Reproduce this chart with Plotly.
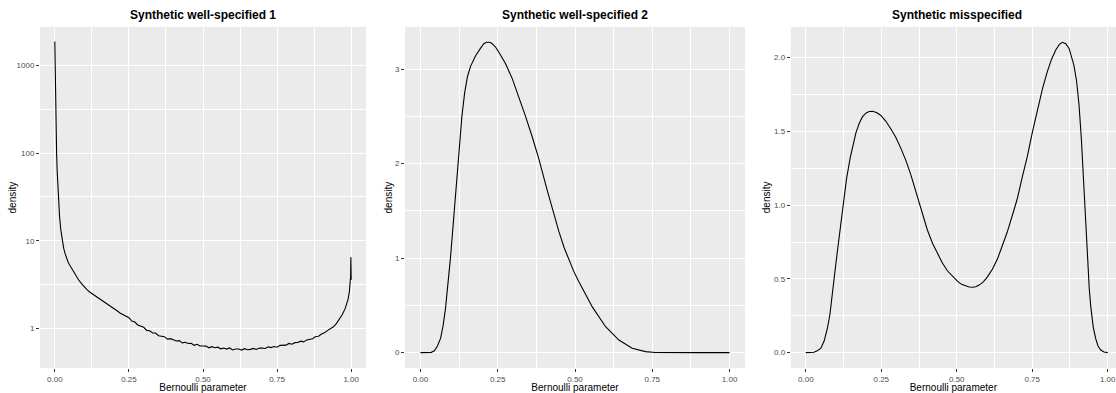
import plotly.graph_objects as go

# ---------------- data ----------------
titles = ["Synthetic well-specified 1", "Synthetic well-specified 2", "Synthetic misspecified"]
x_title = "Bernoulli parameter"
y_title = "density"
x_tickvals = [0.0, 0.25, 0.5, 0.75, 1.0]
x_ticktext = ["0.00", "0.25", "0.50", "0.75", "1.00"]

x1 = [0.0, 0.002, 0.004, 0.006, 0.008, 0.010, 0.013, 0.016, 0.020, 0.025, 0.030, 0.035,
      0.040, 0.045, 0.050, 0.060, 0.070, 0.080, 0.090, 0.100,
      0.11, 0.12, 0.13, 0.14, 0.15, 0.16, 0.17, 0.18, 0.19, 0.20,
      0.21, 0.22, 0.23, 0.24, 0.25, 0.26, 0.27, 0.28, 0.29, 0.30,
      0.31, 0.32, 0.33, 0.34, 0.35, 0.36, 0.37, 0.38, 0.39, 0.40,
      0.41, 0.42, 0.43, 0.44, 0.45, 0.46, 0.47, 0.48, 0.49, 0.50,
      0.51, 0.52, 0.53, 0.54, 0.55, 0.56, 0.57, 0.58, 0.59, 0.60,
      0.61, 0.62, 0.63, 0.64, 0.65, 0.66, 0.67, 0.68, 0.69, 0.70,
      0.71, 0.72, 0.73, 0.74, 0.75, 0.76, 0.77, 0.78, 0.79, 0.80,
      0.81, 0.82, 0.83, 0.84, 0.85, 0.86, 0.87, 0.88, 0.89, 0.90,
      0.91, 0.92, 0.93, 0.94, 0.95, 0.96, 0.97, 0.98, 0.985, 0.99,
      0.994, 0.997, 0.998, 0.999, 1.0]
y1 = [1872, 400, 170, 100, 62, 42, 28, 19, 13.5, 9.9, 8.2, 7.1,
      6.3, 5.7, 5.3, 4.6, 4.05, 3.6, 3.25, 2.97,
      2.75, 2.58, 2.45, 2.33, 2.22, 2.09, 1.98, 1.87, 1.78, 1.68,
      1.60, 1.51, 1.445, 1.37, 1.33, 1.22, 1.19, 1.10, 1.075, 1.035,
      0.955, 0.944, 0.891, 0.892, 0.830, 0.820, 0.810, 0.759, 0.768, 0.748,
      0.722, 0.729, 0.689, 0.698, 0.677, 0.679, 0.646, 0.663, 0.635, 0.633,
      0.632, 0.605, 0.623, 0.605, 0.615, 0.589, 0.600, 0.584, 0.602, 0.572,
      0.585, 0.586, 0.570, 0.591, 0.575, 0.580, 0.595, 0.578, 0.600, 0.601,
      0.594, 0.620, 0.608, 0.626, 0.614, 0.645, 0.645, 0.648, 0.678, 0.665,
      0.692, 0.694, 0.719, 0.706, 0.744, 0.759, 0.768, 0.812, 0.818, 0.869,
      0.896, 0.949, 0.99, 1.05, 1.14, 1.27, 1.45, 1.70, 1.92, 2.2,
      2.65, 3.2, 3.9, 6.5, 3.6]

x2 = [0.0, 0.02, 0.035, 0.045, 0.055, 0.065, 0.073, 0.081, 0.089, 0.097, 0.105, 0.113,
      0.120, 0.127, 0.134, 0.143, 0.152, 0.162, 0.178, 0.194, 0.205, 0.213, 0.225, 0.232,
      0.243, 0.259, 0.275, 0.297, 0.318, 0.340, 0.361, 0.383, 0.410, 0.430, 0.448, 0.465,
      0.480, 0.496, 0.513, 0.556, 0.599, 0.642, 0.685, 0.728, 0.760, 0.800, 0.900, 1.000]
y2 = [0.0, 0.0, 0.003, 0.02, 0.07, 0.15, 0.28, 0.466, 0.72, 1.0, 1.32, 1.64,
      1.95, 2.25, 2.50, 2.75, 2.92, 3.03, 3.14, 3.22, 3.27, 3.285, 3.285, 3.27,
      3.235, 3.15, 3.06, 2.90, 2.71, 2.50, 2.29, 2.05, 1.72, 1.48, 1.28, 1.11,
      0.98, 0.86, 0.747, 0.484, 0.274, 0.133, 0.046, 0.011, 0.002, 0.0, 0.0, 0.0]

x3 = [0.0, 0.015, 0.027, 0.038, 0.050, 0.061, 0.072, 0.080, 0.088, 0.0937, 0.103, 0.1126,
      0.1235, 0.135, 0.147, 0.156, 0.166, 0.177, 0.188, 0.200, 0.210, 0.221, 0.234, 0.248,
      0.264, 0.281, 0.298, 0.315, 0.332, 0.348, 0.359, 0.370, 0.386, 0.403, 0.420, 0.436,
      0.452, 0.469, 0.486, 0.502, 0.516, 0.530, 0.541, 0.552, 0.563, 0.574, 0.588, 0.601,
      0.618, 0.635, 0.651, 0.667, 0.684, 0.700, 0.717, 0.734, 0.750, 0.767, 0.784, 0.800,
      0.814, 0.828, 0.840, 0.850, 0.861, 0.872, 0.880, 0.888, 0.897, 0.905, 0.913, 0.921,
      0.927, 0.933, 0.939, 0.944, 0.952, 0.960, 0.968, 0.977, 0.988, 1.0]
y3 = [0.0, 0.0, 0.003, 0.012, 0.03, 0.08, 0.17, 0.26, 0.38, 0.50, 0.66, 0.816,
      1.0, 1.18, 1.32, 1.41, 1.49, 1.555, 1.60, 1.625, 1.635, 1.637, 1.628, 1.61,
      1.572, 1.52, 1.46, 1.385, 1.30, 1.205, 1.13, 1.05, 0.935, 0.83, 0.74, 0.675,
      0.61, 0.555, 0.515, 0.485, 0.463, 0.45, 0.445, 0.443, 0.447, 0.458, 0.48, 0.512,
      0.565, 0.636, 0.72, 0.816, 0.93, 1.04, 1.19, 1.332, 1.49, 1.647, 1.79, 1.906,
      1.99, 2.052, 2.09, 2.104, 2.095, 2.063, 2.01, 1.95, 1.84, 1.68, 1.44, 1.12,
      0.86, 0.62, 0.43, 0.31, 0.175, 0.096, 0.045, 0.018, 0.004, 0.0]

y1_tickvals = [1, 10, 100, 1000]
y1_ticktext = ["1", "10", "100", "1000"]
y2_tickvals = [0, 1, 2, 3]
y2_ticktext = ["0", "1", "2", "3"]
y3_tickvals = [0.0, 0.5, 1.0, 1.5, 2.0]
y3_ticktext = ["0.0", "0.5", "1.0", "1.5", "2.0"]

# ---------------- figure ----------------
W, H = 1116, 393
FONT = "Liberation Sans, Arial, sans-serif"
PANEL_BG = "#EBEBEB"

fig = go.Figure()
series = [(x1, y1), (x2, y2), (x3, y3)]
for i, (xs, ys) in enumerate(series):
    sfx = "" if i == 0 else str(i + 1)
    fig.add_trace(go.Scatter(x=xs, y=ys, mode="lines",
                             line=dict(color="black", width=1.1),
                             xaxis="x" + sfx, yaxis="y" + sfx,
                             showlegend=False, hoverinfo="skip"))

# pixel geometry of the three panels
panels_px = [(40, 366), (405, 745), (790.7, 1116)]
x_ranges = [[-0.05, 1.05], [-0.05, 1.05], [-0.05, (1116 - 805.7) / 302]]
y_top_px, y_bot_px = 27, 370
y_dom = [1 - y_bot_px / H, 1 - y_top_px / H]

common_axis = dict(
    showline=False, zeroline=False, ticks="outside", ticklen=3, tickwidth=1,
    tickcolor="#333333", tickfont=dict(family=FONT, size=8, color="#4D4D4D"),
    showgrid=True, gridcolor="white", gridwidth=1.1, ticklabeloverflow="allow",
)

y_specs = [
    dict(type="log", range=[-0.45, 3.438], tickvals=y1_tickvals, ticktext=y1_ticktext,
         minor=dict(tickvals=[10 ** 0.5, 10 ** 1.5, 10 ** 2.5], showgrid=True,
                    gridcolor="white", gridwidth=0.55, ticks="")),
    dict(range=[-0.164, 3.448], tickvals=y2_tickvals, ticktext=y2_ticktext,
         minor=dict(tickvals=[0.5, 1.5, 2.5], showgrid=True, gridcolor="white",
                    gridwidth=0.55, ticks="")),
    dict(range=[-0.105, 2.209], tickvals=y3_tickvals, ticktext=y3_ticktext,
         minor=dict(tickvals=[0.25, 0.75, 1.25, 1.75], showgrid=True, gridcolor="white",
                    gridwidth=0.55, ticks="")),
]

layout = dict(
    width=W, height=H, margin=dict(l=0, r=0, t=0, b=0),
    paper_bgcolor="white", plot_bgcolor=PANEL_BG,
    font=dict(family=FONT, color="black"),
    annotations=[],
)

for i in range(3):
    sfx = "" if i == 0 else str(i + 1)
    l, r = panels_px[i]
    xa = dict(common_axis)
    xa.update(domain=[l / W, r / W], range=x_ranges[i], anchor="y" + sfx,
              tickvals=x_tickvals, ticktext=x_ticktext,
              title=dict(text=x_title, font=dict(family=FONT, size=10, color="black"), standoff=2),
              minor=dict(tickvals=[0.125, 0.375, 0.625, 0.875], showgrid=True,
                         gridcolor="white", gridwidth=0.55, ticks=""))
    ya = dict(common_axis)
    ya.update(y_specs[i])
    ya.update(domain=y_dom, anchor="x" + sfx)
    layout["xaxis" + sfx] = xa
    layout["yaxis" + sfx] = ya

# panel titles
title_centers = [203, 575, 956.7]
for i, t in enumerate(titles):
    layout["annotations"].append(dict(
        text="<b>" + t + "</b>", x=title_centers[i] / W, y=1 - 15 / H,
        xref="paper", yref="paper", xanchor="center", yanchor="middle",
        showarrow=False, font=dict(family=FONT, size=12, color="black")))

# y-axis titles
ytitle_x = [12, 388, 766.7]
for xp in ytitle_x:
    layout["annotations"].append(dict(
        text=y_title, x=xp / W, y=1 - (y_top_px + y_bot_px) / 2 / H,
        xref="paper", yref="paper", xanchor="center", yanchor="middle",
        textangle=-90, showarrow=False, font=dict(family=FONT, size=10, color="black")))

fig.update_layout(**layout)
fig.write_html("out.html")
